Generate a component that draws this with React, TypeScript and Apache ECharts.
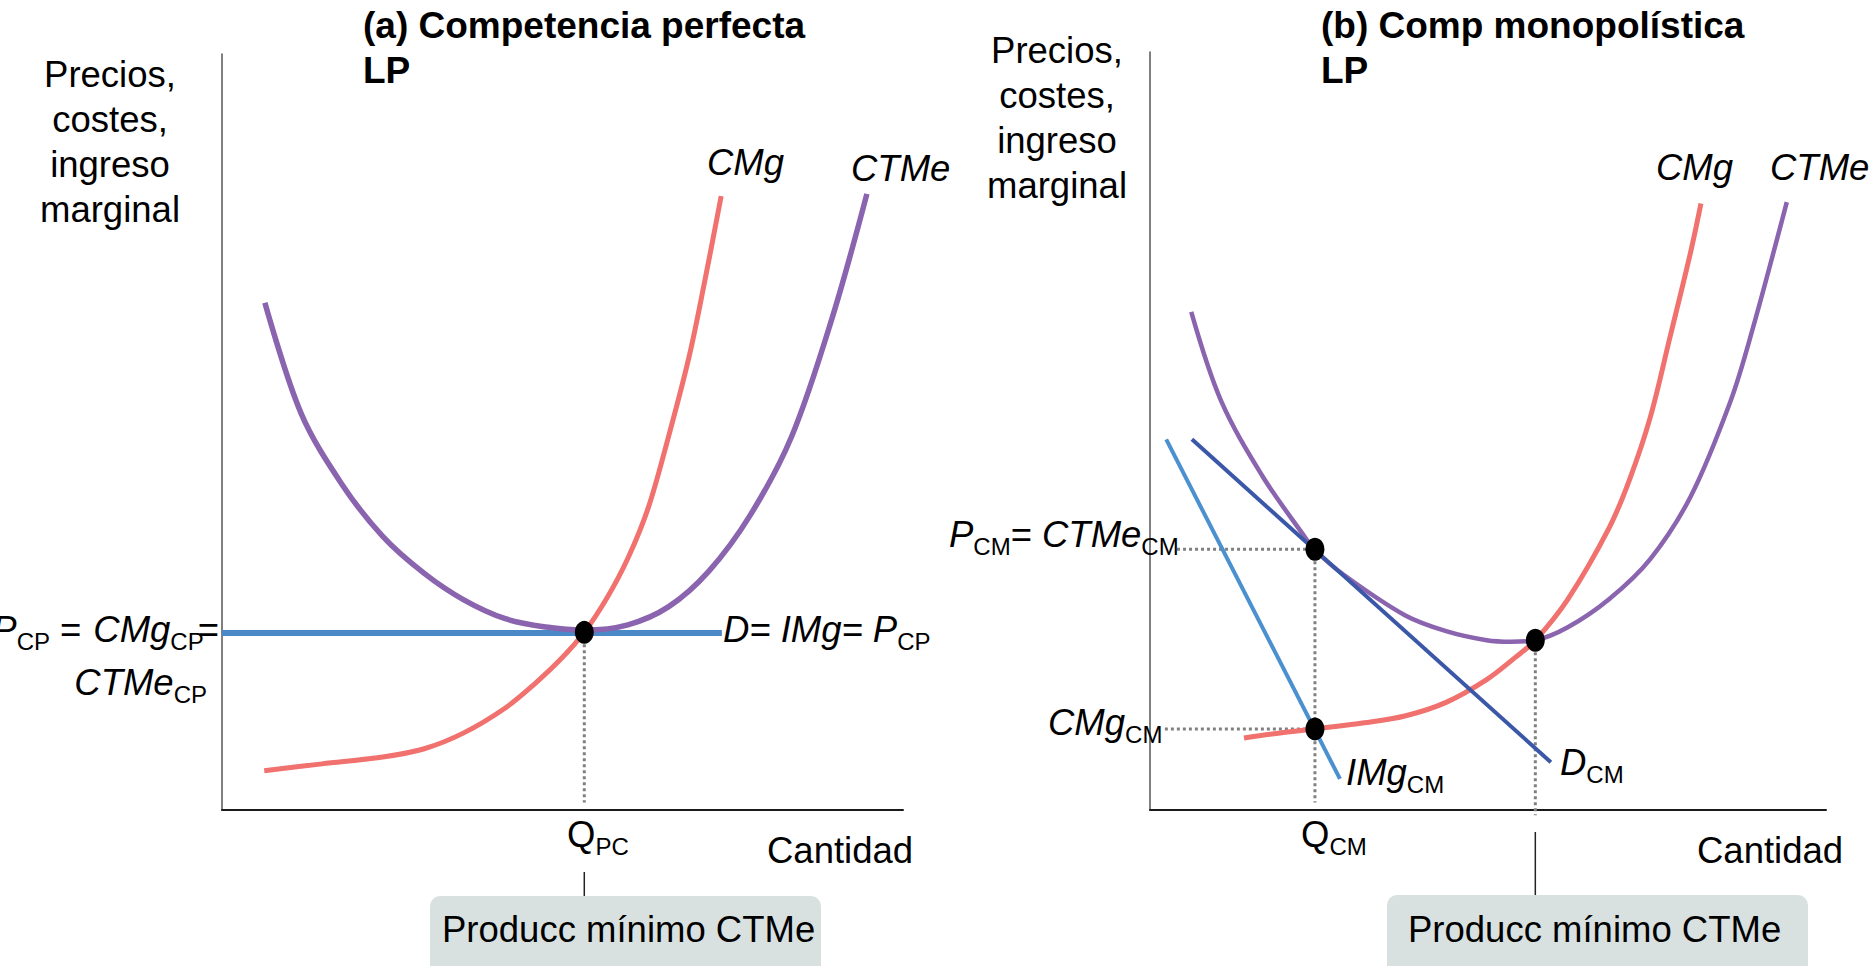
import React, { useEffect, useRef } from 'react';
import * as echarts from 'echarts';

const FONT = '"Liberation Sans", Arial, Helvetica, sans-serif';
const MAIN = 36.5;
const TITLE = 37;
const SUB = 24;
const DROP = 8;
const SMOOTH = 0.34;

// ---------- Panel (a): Competencia perfecta LP ----------
const cpAtcX = [0.63, 1.16, 1.76, 2.36, 2.97, 3.55, 4.16, 4.76, 5.32, 5.96, 6.56, 7.15, 7.75, 8.36, 8.96, 9.47];
const cpAtcY = [6.71, 5.25, 4.31, 3.62, 3.13, 2.78, 2.53, 2.42, 2.38, 2.45, 2.69, 3.16, 3.89, 4.93, 6.51, 8.15];
const cpMcX = [0.62, 1.47, 2.36, 2.97, 3.55, 4.16, 4.58, 4.99, 5.32, 5.65, 5.96, 6.26, 6.56, 6.86, 7.09, 7.33];
const cpMcY = [0.52, 0.61, 0.7, 0.81, 1.02, 1.35, 1.66, 2.01, 2.35, 2.8, 3.33, 4.0, 4.95, 6.0, 7.0, 8.12];
const cpDemandX = [0, 7.34];
const cpDemandY = [2.34, 2.34];
const cpEqQ = 5.32;
const cpEqP = 2.35;

// ---------- Panel (b): Comp monopolística LP ----------
const cmAtcX = [0.61, 1.05, 1.66, 2.26, 2.44, 2.87, 3.77, 4.38, 4.98, 5.34, 5.7, 6.18, 6.79, 7.4, 8.0, 8.59, 8.91, 9.42];
const cmAtcY = [6.57, 5.4, 4.41, 3.64, 3.43, 3.1, 2.57, 2.36, 2.24, 2.22, 2.24, 2.41, 2.78, 3.31, 4.14, 5.4, 6.33, 8.02];
const cmMcX = [1.39, 1.95, 2.44, 3.17, 3.77, 4.38, 4.98, 5.4, 5.7, 6.18, 6.79, 7.09, 7.4, 7.69, 8.0, 8.15];
const cmMcY = [0.95, 1.02, 1.07, 1.15, 1.24, 1.42, 1.72, 2.01, 2.24, 2.78, 3.72, 4.35, 5.18, 6.23, 7.37, 8.0];
const cmDemandX = [0.62, 5.93];
const cmDemandY = [4.89, 0.63];
const cmMrX = [0.24, 2.81];
const cmMrY = [4.89, 0.41];
const cmQ = 2.44;
const cmP = 3.44;
const cmMcAtQ = 1.07;
const cmMinQ = 5.7;
const cmMinC = 2.24;

const zip = (xs: number[], ys: number[]) => xs.map((x, i) => [x, ys[i]]);

const PURPLE = '#8a64af';
const RED = '#f0716e';
const BLUE_L = '#4a88c8';
const BLUE_D = '#3b57a7';
const BLUE_MR = '#4b90cf';
const DOT_GRAY = '#808080';

type Piece = { t: string; it?: boolean; sub?: boolean; bold?: boolean; dx?: number; size?: number };

let measureCtx: CanvasRenderingContext2D | null = null;
function measure(t: string, size: number, italic?: boolean, bold?: boolean) {
  if (!measureCtx) measureCtx = document.createElement('canvas').getContext('2d');
  measureCtx!.font = `${italic ? 'italic ' : ''}${bold ? 'bold ' : ''}${size}px ${FONT}`;
  return measureCtx!.measureText(t).width;
}

function label(x: number, baseline: number, pieces: Piece[], align: 'left' | 'right' | 'center' = 'left', main = MAIN) {
  const items = pieces.map((p) => {
    const size = p.size ?? (p.sub ? SUB : main);
    return { ...p, size, w: measure(p.t, size, p.it, p.bold) };
  });
  const total = items.reduce((s, i) => s + i.w + (i.dx || 0), 0);
  let cx = align === 'left' ? x : align === 'right' ? x - total : x - total / 2;
  const els: any[] = [];
  for (const it of items) {
    cx += it.dx || 0;
    const bl = baseline + (it.sub ? DROP : 0);
    els.push({
      type: 'text',
      x: cx,
      y: bl - 0.3465 * it.size,
      silent: true,
      z: 100,
      style: {
        text: it.t,
        fontSize: it.size,
        fontFamily: FONT,
        fontStyle: it.it ? 'italic' : 'normal',
        fontWeight: it.bold ? 'bold' : 'normal',
        fill: '#000',
        align: 'left',
        verticalAlign: 'middle',
      },
    });
    cx += it.w;
  }
  return els;
}

const axisBase = (color: string, width: number) => ({
  type: 'value' as const,
  min: 0,
  max: 10,
  axisLine: { show: true, onZero: false, lineStyle: { color, width } },
  axisTick: { show: false },
  axisLabel: { show: false },
  splitLine: { show: false },
});

const curve = (idx: number, data: number[][], color: string, width: number, smooth: number | boolean = SMOOTH, z = 2) => ({
  type: 'line',
  xAxisIndex: idx,
  yAxisIndex: idx,
  data,
  smooth,
  symbol: 'none',
  lineStyle: { color, width, cap: 'butt' },
  z,
  silent: true,
});

const guide = (idx: number, data: number[][], clip = true) => ({
  type: 'line',
  xAxisIndex: idx,
  yAxisIndex: idx,
  data,
  symbol: 'none',
  clip,
  lineStyle: { color: DOT_GRAY, width: 3, type: [3, 3] },
  z: 1,
  silent: true,
});

const dots = (idx: number, data: number[][]) => ({
  type: 'scatter',
  xAxisIndex: idx,
  yAxisIndex: idx,
  data,
  symbol: 'circle',
  symbolSize: [19, 23],
  itemStyle: { color: '#000', opacity: 1 },
  z: 10,
  silent: true,
});

export default function App() {
  const ref = useRef<HTMLDivElement>(null);
  useEffect(() => {
    const chart = echarts.init(ref.current!, null, { renderer: 'svg' });
    chart.setOption({
      animation: false,
      backgroundColor: '#fff',
      grid: [
        { left: 222, top: 54, width: 681, height: 756 },
        { left: 1150, top: 52, width: 676, height: 758 },
      ],
      xAxis: [
        { ...axisBase('#1a1a1a', 2), gridIndex: 0 },
        { ...axisBase('#1a1a1a', 2), gridIndex: 1 },
      ],
      yAxis: [
        { ...axisBase('#555', 1.5), gridIndex: 0 },
        { ...axisBase('#555', 1.5), gridIndex: 1 },
      ],
      series: [
        // panel (a)
        guide(0, [[cpEqQ, cpEqP], [cpEqQ, 0.1]]),
        curve(0, zip(cpDemandX, cpDemandY), BLUE_L, 6, false, 2),
        curve(0, zip(cpAtcX, cpAtcY), PURPLE, 5.5, SMOOTH, 3),
        curve(0, zip(cpMcX, cpMcY), RED, 5, SMOOTH, 4),
        dots(0, [[cpEqQ, cpEqP]]),
        // panel (b)
        guide(1, [[0.4, cmP], [cmQ, cmP]]),
        guide(1, [[0.22, cmMcAtQ], [cmQ, cmMcAtQ]]),
        guide(1, [[cmQ, cmP], [cmQ, 0.1]]),
        guide(1, [[cmMinQ, cmMinC], [cmMinQ, -0.07]], false),
        curve(1, zip(cmAtcX, cmAtcY), PURPLE, 4.5, SMOOTH, 2),
        curve(1, zip(cmMcX, cmMcY), RED, 5, SMOOTH, 3),
        curve(1, zip(cmDemandX, cmDemandY), BLUE_D, 4, false, 4),
        curve(1, zip(cmMrX, cmMrY), BLUE_MR, 4, false, 5),
        dots(1, [[cmQ, cmP], [cmQ, cmMcAtQ], [cmMinQ, cmMinC]]),
      ],
    });

    const pL = chart.convertToPixel({ gridIndex: 0 }, [cpEqQ, 0]) as number[];
    const pR = chart.convertToPixel({ gridIndex: 1 }, [cmMinQ, 0]) as number[];

    const yLabel = (cx: number, first: number) =>
      ['Precios,', 'costes,', 'ingreso', 'marginal'].flatMap((t, i) => label(cx, first + i * 45, [{ t }], 'center'));

    const elements: any[] = [
      { type: 'rect', shape: { x: 430, y: 896, width: 391, height: 100, r: 10 }, style: { fill: '#d8e1df' }, silent: true, z: 50 },
      { type: 'rect', shape: { x: 1387, y: 895, width: 421, height: 100, r: 10 }, style: { fill: '#d8e1df' }, silent: true, z: 50 },
      { type: 'line', shape: { x1: pL[0], y1: 872, x2: pL[0], y2: 896 }, style: { stroke: '#222', lineWidth: 1.5 }, silent: true, z: 50 },
      { type: 'line', shape: { x1: pR[0], y1: 832, x2: pR[0], y2: 895 }, style: { stroke: '#222', lineWidth: 1.5 }, silent: true, z: 50 },
      // titles
      ...label(363, 38, [{ t: '(a) Competencia perfecta', bold: true }], 'left', TITLE),
      ...label(363, 83, [{ t: 'LP', bold: true }], 'left', TITLE),
      ...label(1321, 38, [{ t: '(b) Comp monopolística', bold: true }], 'left', TITLE),
      ...label(1321, 83, [{ t: 'LP', bold: true }], 'left', TITLE),
      // axis titles
      ...yLabel(110, 87),
      ...yLabel(1057, 63),
      ...label(767, 863, [{ t: 'Cantidad' }]),
      ...label(1697, 863, [{ t: 'Cantidad' }]),
      // panel (a) labels
      ...label(707, 175, [{ t: 'CMg', it: true }]),
      ...label(851, 181, [{ t: 'CTMe', it: true }]),
      ...label(219, 642, [
        { t: 'P', it: true },
        { t: 'CP', sub: true },
        { t: '=', dx: 10 },
        { t: 'CMg', it: true, dx: 12 },
        { t: 'CP', sub: true },
        { t: '=', dx: -6 },
      ], 'right'),
      ...label(207, 695, [{ t: 'CTMe', it: true }, { t: 'CP', sub: true }], 'right'),
      ...label(723, 642, [
        { t: 'D', it: true },
        { t: '=', it: true },
        { t: 'IMg', it: true, dx: 10 },
        { t: '=', it: true },
        { t: 'P', it: true, dx: 10 },
        { t: 'CP', sub: true },
      ]),
      ...label(567, 847, [{ t: 'Q' }, { t: 'PC', sub: true }]),
      ...label(442, 942, [{ t: 'Producc mínimo CTMe' }]),
      // panel (b) labels
      ...label(1656, 180, [{ t: 'CMg', it: true }]),
      ...label(1770, 180, [{ t: 'CTMe', it: true }]),
      ...label(949, 547, [
        { t: 'P', it: true },
        { t: 'CM', sub: true },
        { t: '=' },
        { t: 'CTMe', it: true, dx: 10 },
        { t: 'CM', sub: true },
      ]),
      ...label(1048, 735, [{ t: 'CMg', it: true }, { t: 'CM', sub: true }]),
      ...label(1346, 785, [{ t: 'IMg', it: true }, { t: 'CM', sub: true }]),
      ...label(1560, 775, [{ t: 'D', it: true }, { t: 'CM', sub: true }]),
      ...label(1301, 847, [{ t: 'Q' }, { t: 'CM', sub: true }]),
      ...label(1408, 942, [{ t: 'Producc mínimo CTMe' }]),
    ];

    chart.setOption({ graphic: { elements } });
    return () => chart.dispose();
  }, []);

  return (
    <div
      ref={ref}
      style={{ position: 'fixed', left: 0, top: 0, width: 1874, height: 966, background: '#fff' }}
    />
  );
}
